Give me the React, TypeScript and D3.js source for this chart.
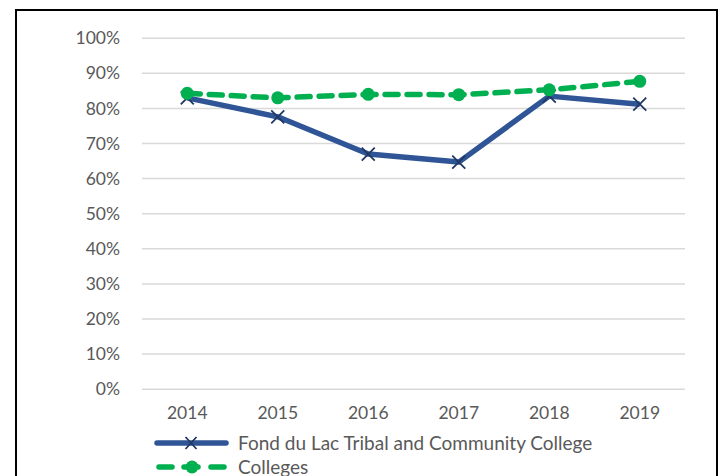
import React from 'react';
import * as d3 from 'd3';

const years = ['2014', '2015', '2016', '2017', '2018', '2019'];
const fondDuLac = [0.83, 0.776, 0.67, 0.647, 0.835, 0.812];
const colleges = [0.843, 0.83, 0.84, 0.839, 0.853, 0.877];
const yTicks = [0, 0.1, 0.2, 0.3, 0.4, 0.5, 0.6, 0.7, 0.8, 0.9, 1];

const W = 726;
const H = 476;
const font = 'Lato, "Open Sans", sans-serif';

export default function App() {
  const x = d3.scaleBand().domain(years).range([142, 685]);
  const y = d3.scaleLinear().domain([0, 1]).range([389.2, 38.2]);
  const cx = (d: string) => (x(d) as number) + x.bandwidth() / 2;

  const line = d3
    .line<number>()
    .x((_, i) => cx(years[i]))
    .y((d) => y(d));

  return (
    <svg
      width={W}
      height={H}
      style={{ position: 'absolute', left: 0, top: 0, background: '#fff' }}
    >
      <rect x={16} y={10} width={701} height={480} fill="#fff" stroke="#000" strokeWidth={2} />
      {yTicks.map((t) => (
        <g key={t}>
          <line x1={142} x2={685} y1={y(t)} y2={y(t)} stroke="#d9d9d9" strokeWidth={1.5} />
          <text
            x={120}
            y={y(t)}
            dy="0.35em"
            textAnchor="end"
            fontFamily={font}
            fontSize={17.5}
            fill="#595959"
          >
            {d3.format('.0%')(t)}
          </text>
        </g>
      ))}
      {years.map((yr) => (
        <text
          key={yr}
          x={cx(yr)}
          y={413}
          dy="0.35em"
          textAnchor="middle"
          fontFamily={font}
          fontSize={17.5}
          fill="#595959"
        >
          {yr}
        </text>
      ))}
      <path d={line(fondDuLac) || ''} fill="none" stroke="#2f5597" strokeWidth={5.5} strokeLinejoin="round" />
      {fondDuLac.map((v, i) => {
        const px = cx(years[i]);
        const py = y(v);
        const s = 6.5;
        return (
          <path
            key={i}
            d={`M${px - s},${py - s}L${px + s},${py + s}M${px - s},${py + s}L${px + s},${py - s}`}
            stroke="#1f3864"
            strokeWidth={1.8}
          />
        );
      })}
      <path
        d={line(colleges) || ''}
        fill="none"
        stroke="#00b050"
        strokeWidth={5.5}
        strokeDasharray="13 9"
        strokeLinecap="round"
      />
      {colleges.map((v, i) => (
        <circle key={i} cx={cx(years[i])} cy={y(v)} r={6.5} fill="#00b050" />
      ))}

      <g>
        <line x1={157} x2={226} y1={443} y2={443} stroke="#2f5597" strokeWidth={5.5} strokeLinecap="round" />
        <path d="M185.5,437L196.5,449M185.5,449L196.5,437" stroke="#1f3864" strokeWidth={1.8} />
        <text x={238} y={443} dy="0.35em" fontFamily={font} fontSize={19} fill="#595959">
          Fond du Lac Tribal and Community College
        </text>
        <line x1={159} x2={172} y1={467} y2={467} stroke="#00b050" strokeWidth={5.5} strokeLinecap="round" />
        <line x1={184} x2={198} y1={467} y2={467} stroke="#00b050" strokeWidth={5.5} strokeLinecap="round" />
        <line x1={211} x2={224} y1={467} y2={467} stroke="#00b050" strokeWidth={5.5} strokeLinecap="round" />
        <circle cx={192} cy={467} r={6.5} fill="#00b050" />
        <text x={238} y={467} dy="0.35em" fontFamily={font} fontSize={19} fill="#595959">
          Colleges
        </text>
      </g>
    </svg>
  );
}
